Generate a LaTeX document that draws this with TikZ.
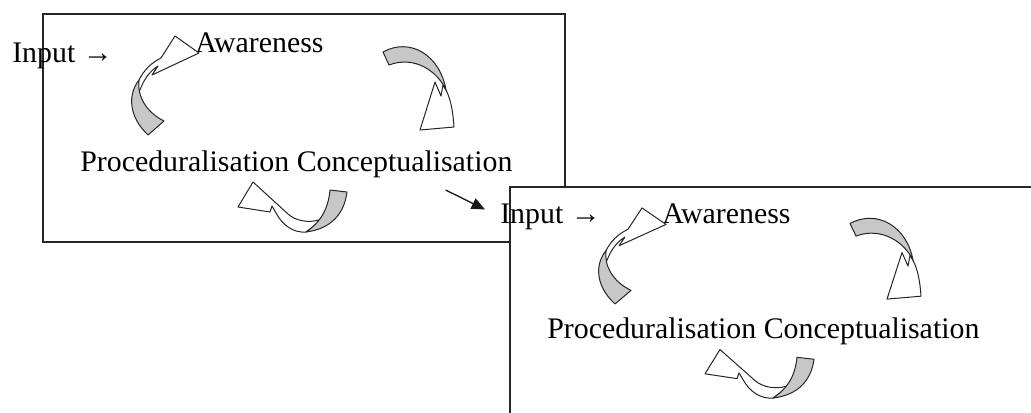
\documentclass[tikz,border=0pt]{standalone}
\usepackage{fontspec}
\setmainfont{Liberation Serif}
\usetikzlibrary{arrows.meta,positioning,calc}

\begin{document}
\begin{tikzpicture}[x=0.75pt, y=-0.75pt, >=Latex,
    txt/.style={font=\fontsize{22.4}{26}\selectfont, inner sep=0pt, anchor=base west},
    frame/.style={draw=black!85, fill=white, line width=1.4pt},
    back/.style={fill=black!22, draw=black!85, line width=0.75pt, line join=round},
    front/.style={fill=white, draw=black!85, line width=0.75pt, line join=round}]
  \useasboundingbox (0,0) rectangle (1031,412);

  % the cycle, drawn twice
  \foreach \k/\dx/\dy/\ix/\iy/\ys in {1/0/0/12/62/1, 2/467/173/33/52/0.97}{
    \begin{scope}[shift={(\dx,\dy)}]
      \draw[frame] (43,14) rectangle (565,242);
      \begin{scope}[yscale=\ys]
        \node[txt] (in\k) at (\ix,\iy) {Input →};
        \node[txt] (aw\k) at (195,52) {Awareness};
        \node[txt] (pc\k) at (80,171) {Proceduralisation Conceptualisation};

        % proceduralisation -> awareness
        \filldraw[front] (139,80) .. controls (144,70) and (151,63) .. (161,58)
          -- (175,36) -- (199,53) -- (152,75) -- (158,66)
          .. controls (150,71) and (144,79) .. (140,90) -- (135,90) -- cycle;
        \filldraw[back] (148,135) .. controls (128,116) and (128,94) .. (139,80)
          .. controls (137,96) and (146,112) .. (164,121) -- cycle;

        % awareness -> conceptualisation
        \filldraw[front] (454,127) .. controls (453,112) and (451,100) .. (446,90)
          -- (443,85) -- (441,96) -- (435,82) -- (420,130) -- cycle;
        \filldraw[back] (383,52) .. controls (410,37) and (440,55) .. (446,90)
          .. controls (438,72) and (415,55) .. (389,65) -- cycle;

        % conceptualisation -> proceduralisation
        \filldraw[front] (253,182) -- (288,214) .. controls (296,221) and (308,223) .. (319,220)
          -- (335,210) -- (306,232) .. controls (294,233) and (283,226) .. (276,213)
          -- (272,206) -- (270,212) -- (238,207) -- cycle;
        \filldraw[back] (347,192) .. controls (344,215) and (330,229) .. (306,232)
          .. controls (318,224) and (328,212) .. (330,190) -- cycle;
      \end{scope}
    \end{scope}
  }

  % link to the second cycle
  \draw[-{Triangle[length=10pt,width=8.5pt]}, line width=1pt, black!90]
    ($(pc1.base east)+(-67,19)$) -- ($(in2.base west)+(-15,-14)$);
\end{tikzpicture}
\end{document}
